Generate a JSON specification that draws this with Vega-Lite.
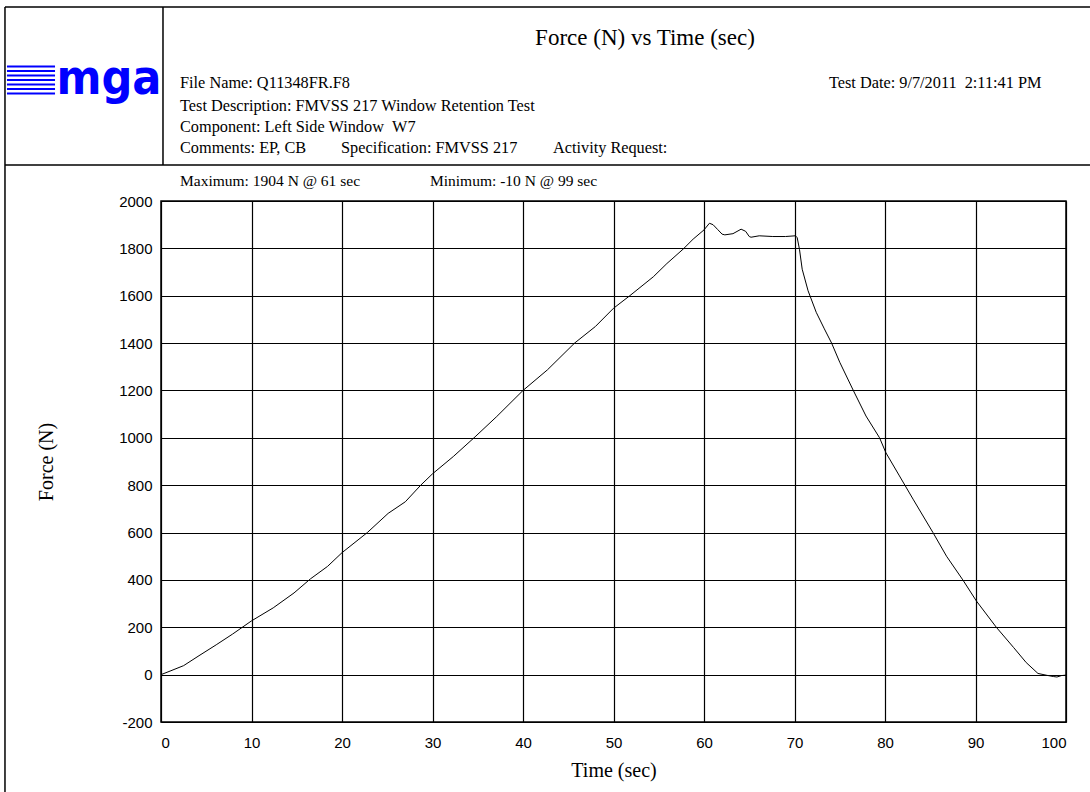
{
  "$schema": "https://vega.github.io/schema/vega-lite/v6.json",
  "width": 905,
  "height": 521,
  "autosize": {"type": "none"},
  "padding": {"left": 161, "top": 201, "right": 24, "bottom": 70},
  "background": "#ffffff",
  "config": {
    "view": {"stroke": "#000000", "strokeWidth": 1.5},
    "axis": {
      "domain": false,
      "ticks": false,
      "grid": true,
      "gridColor": "#000000",
      "gridOpacity": 1,
      "gridWidth": 1.2,
      "labelFont": "Liberation Sans",
      "labelFontSize": 15,
      "labelColor": "#000000",
      "titleFont": "Liberation Serif",
      "titleFontWeight": "normal",
      "titleFontSize": 20,
      "titleColor": "#000000"
    },
    "text": {"font": "Liberation Serif", "fontSize": 16.3, "fontWeight": "normal", "color": "#000000", "align": "left", "baseline": "middle"}
  },
  "datasets": {
    "force": [
      {"t": 0, "f": 0}, {"t": 1, "f": 15}, {"t": 2.5, "f": 38}, {"t": 4.2, "f": 80},
      {"t": 6.1, "f": 126}, {"t": 7.9, "f": 171}, {"t": 10, "f": 227}, {"t": 12.4, "f": 282},
      {"t": 14.7, "f": 345}, {"t": 16.5, "f": 404}, {"t": 18.4, "f": 457}, {"t": 20, "f": 515},
      {"t": 22.8, "f": 600}, {"t": 25.1, "f": 681}, {"t": 27, "f": 730}, {"t": 28.7, "f": 800},
      {"t": 30, "f": 848}, {"t": 32.3, "f": 921}, {"t": 34.7, "f": 1004}, {"t": 37.1, "f": 1090},
      {"t": 40, "f": 1200}, {"t": 42.7, "f": 1287}, {"t": 45.7, "f": 1400}, {"t": 48, "f": 1470},
      {"t": 50, "f": 1547}, {"t": 51.8, "f": 1600}, {"t": 54.4, "f": 1680}, {"t": 55.9, "f": 1736},
      {"t": 57.7, "f": 1797}, {"t": 58.8, "f": 1839}, {"t": 60, "f": 1878}, {"t": 60.6, "f": 1906},
      {"t": 61, "f": 1900}, {"t": 61.5, "f": 1880}, {"t": 62, "f": 1860}, {"t": 62.3, "f": 1857},
      {"t": 63.2, "f": 1862}, {"t": 64.1, "f": 1881}, {"t": 64.6, "f": 1872}, {"t": 65, "f": 1850},
      {"t": 65.2, "f": 1847}, {"t": 66.1, "f": 1853}, {"t": 67.6, "f": 1850}, {"t": 69, "f": 1850},
      {"t": 70.1, "f": 1853}, {"t": 70.3, "f": 1845}, {"t": 70.55, "f": 1796}, {"t": 70.85, "f": 1712},
      {"t": 71.5, "f": 1621}, {"t": 72.4, "f": 1530}, {"t": 73.3, "f": 1460}, {"t": 74.1, "f": 1400},
      {"t": 75, "f": 1319}, {"t": 76.5, "f": 1200}, {"t": 77.9, "f": 1092}, {"t": 79.4, "f": 1000},
      {"t": 80.1, "f": 937}, {"t": 81.6, "f": 839}, {"t": 83.1, "f": 741}, {"t": 85.3, "f": 600},
      {"t": 86.8, "f": 500}, {"t": 88.6, "f": 400}, {"t": 90.1, "f": 311}, {"t": 92.3, "f": 200},
      {"t": 94.2, "f": 115}, {"t": 95.6, "f": 51}, {"t": 96.9, "f": 5}, {"t": 97.9, "f": -3},
      {"t": 98.6, "f": -8}, {"t": 99, "f": -10}, {"t": 99.5, "f": -4}, {"t": 100, "f": -2}
    ],
    "one": [{}]
  },
  "data": {"name": "one"},
  "layer": [
    {
      "data": {"name": "force"},
      "mark": {"type": "line", "color": "#000000", "strokeWidth": 1},
      "encoding": {
        "x": {
          "field": "t", "type": "quantitative",
          "scale": {"domain": [0, 100], "nice": false, "zero": false},
          "axis": {"values": [0, 10, 20, 30, 40, 50, 60, 70, 80, 90, 100], "labelExpr": "'' + datum.value", "title": "Time (sec)", "labelPadding": 13, "titleY": 48, "titleBaseline": "middle", "titleAlign": "center", "titleX": 452.5}
        },
        "y": {
          "field": "f", "type": "quantitative",
          "scale": {"domain": [-200, 2000], "nice": false, "zero": false},
          "axis": {"values": [-200, 0, 200, 400, 600, 800, 1000, 1200, 1400, 1600, 1800, 2000], "labelExpr": "'' + datum.value", "title": "Force (N)", "labelPadding": 9, "titleX": -115, "titleY": 260.5, "titleAngle": -90, "titleBaseline": "middle", "titleAlign": "center"}
        }
      }
    },
    {"mark": {"type": "rule", "color": "#000000", "strokeWidth": 1.5}, "encoding": {"x": {"datum": -17.24}, "x2": {"datum": 102.65}, "y": {"datum": 2819.2}}},
    {"mark": {"type": "rule", "color": "#000000", "strokeWidth": 1.5}, "encoding": {"x": {"datum": -17.24}, "x2": {"datum": 102.65}, "y": {"datum": 2152}}},
    {"mark": {"type": "rule", "color": "#000000", "strokeWidth": 1.5}, "encoding": {"x": {"datum": -17.24}, "y": {"datum": 2819.2}, "y2": {"datum": -495.6}}},
    {"mark": {"type": "rule", "color": "#000000", "strokeWidth": 1.5}, "encoding": {"x": {"datum": 0.22}, "y": {"datum": 2819.2}, "y2": {"datum": 2152}}},
    {"mark": {"type": "rule", "color": "#0000ff", "strokeWidth": 2}, "encoding": {"x": {"datum": -17.02}, "x2": {"datum": -11.71}, "y": {"datum": 2567.9}}},
    {"mark": {"type": "rule", "color": "#0000ff", "strokeWidth": 2}, "encoding": {"x": {"datum": -17.02}, "x2": {"datum": -11.71}, "y": {"datum": 2548.9}}},
    {"mark": {"type": "rule", "color": "#0000ff", "strokeWidth": 2}, "encoding": {"x": {"datum": -17.02}, "x2": {"datum": -11.71}, "y": {"datum": 2529.9}}},
    {"mark": {"type": "rule", "color": "#0000ff", "strokeWidth": 2}, "encoding": {"x": {"datum": -17.02}, "x2": {"datum": -11.71}, "y": {"datum": 2510.9}}},
    {"mark": {"type": "rule", "color": "#0000ff", "strokeWidth": 2}, "encoding": {"x": {"datum": -17.02}, "x2": {"datum": -11.71}, "y": {"datum": 2491.9}}},
    {"mark": {"type": "rule", "color": "#0000ff", "strokeWidth": 2}, "encoding": {"x": {"datum": -17.02}, "x2": {"datum": -11.71}, "y": {"datum": 2472.9}}},
    {"mark": {"type": "rule", "color": "#0000ff", "strokeWidth": 2}, "encoding": {"x": {"datum": -17.02}, "x2": {"datum": -11.71}, "y": {"datum": 2453.9}}},
    {"mark": {"type": "text", "font": "DejaVu Sans Condensed, Liberation Sans Narrow, DejaVu Sans", "fontWeight": "bold", "fontSize": 48, "color": "#0000ff", "align": "center", "baseline": "alphabetic"}, "encoding": {"x": {"datum": -5.75}, "y": {"datum": 2452}, "text": {"value": "mga"}}},
    {"mark": {"type": "text", "fontSize": 23, "align": "center"}, "encoding": {"x": {"datum": 53.48}, "y": {"datum": 2688.3}, "text": {"value": "Force (N) vs Time (sec)"}}},
    {"mark": {"type": "text"}, "encoding": {"x": {"datum": 2.1}, "y": {"datum": 2498.3}, "text": {"value": "File Name: Q11348FR.F8"}}},
    {"mark": {"type": "text"}, "encoding": {"x": {"datum": 73.81}, "y": {"datum": 2498.3}, "text": {"value": "Test Date: 9/7/2011\u00a0\u00a02:11:41 PM"}}},
    {"mark": {"type": "text"}, "encoding": {"x": {"datum": 2.1}, "y": {"datum": 2401.1}, "text": {"value": "Test Description: FMVSS 217 Window Retention Test"}}},
    {"mark": {"type": "text"}, "encoding": {"x": {"datum": 2.1}, "y": {"datum": 2312.5}, "text": {"value": "Component: Left Side Window\u00a0\u00a0W7"}}},
    {"mark": {"type": "text"}, "encoding": {"x": {"datum": 2.1}, "y": {"datum": 2223.8}, "text": {"value": "Comments: EP, CB"}}},
    {"mark": {"type": "text"}, "encoding": {"x": {"datum": 19.89}, "y": {"datum": 2223.8}, "text": {"value": "Specification: FMVSS 217"}}},
    {"mark": {"type": "text"}, "encoding": {"x": {"datum": 43.31}, "y": {"datum": 2223.8}, "text": {"value": "Activity Request:"}}},
    {"mark": {"type": "text", "fontSize": 15.5}, "encoding": {"x": {"datum": 2.1}, "y": {"datum": 2084.5}, "text": {"value": "Maximum: 1904 N @ 61 sec"}}},
    {"mark": {"type": "text", "fontSize": 15.5}, "encoding": {"x": {"datum": 29.72}, "y": {"datum": 2084.5}, "text": {"value": "Minimum: -10 N @ 99 sec"}}}
  ]
}
